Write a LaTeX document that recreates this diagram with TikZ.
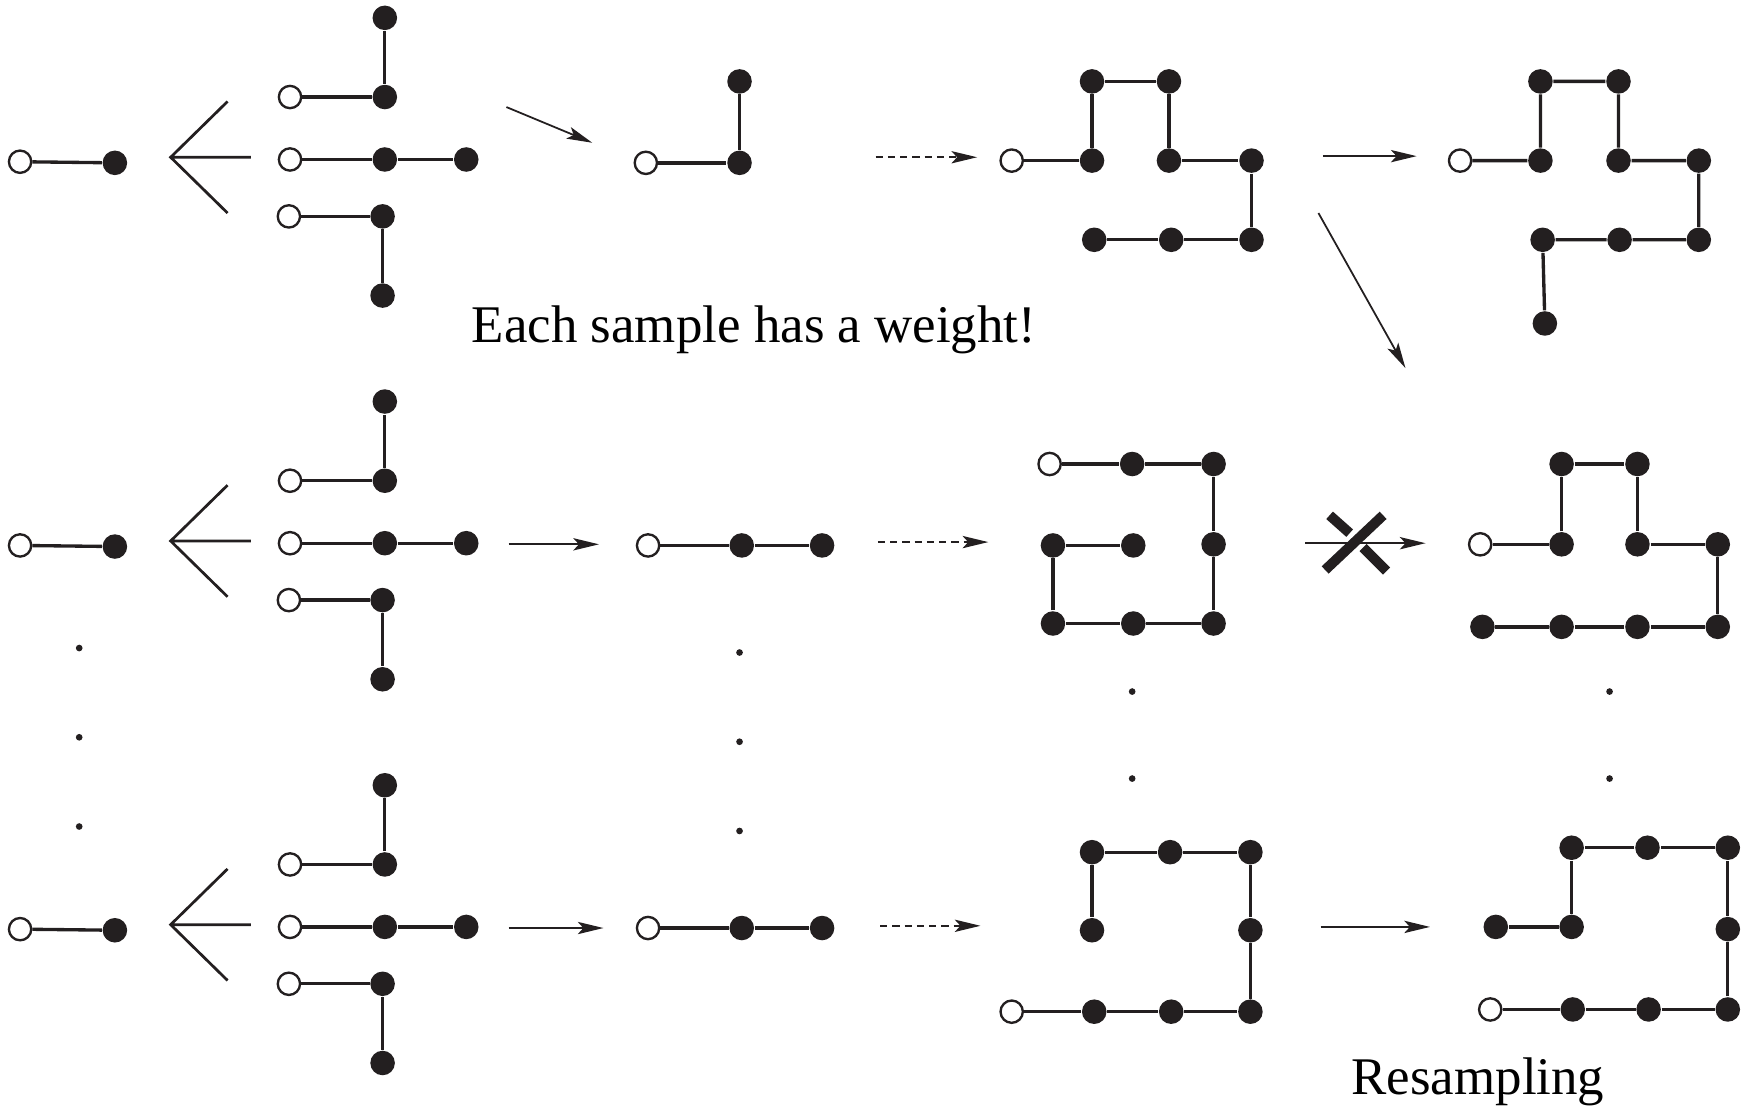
\documentclass[tikz,border=0pt]{standalone}
\usepackage{fontspec}
\setmainfont{Liberation Serif}
\usetikzlibrary{arrows.meta}

\definecolor{ink}{HTML}{231F20}

\tikzset{
  fdot/.style={circle,fill=ink,inner sep=0pt,minimum size=2.2mm},
  odot/.style={circle,draw=ink,fill=white,line width=0.6pt,inner sep=0pt,minimum size=2mm},
  vdot/.style={circle,fill=ink,inner sep=0pt,minimum size=0.6mm},
  edge/.style={ink,line width=0.85pt},
  fork/.style={ink,line width=0.7pt},
  move/.style={ink,line width=0.45pt,-{Stealth[length=2.3mm,width=1.1mm,inset=0.5mm]}},
  movedash/.style={move,dash pattern=on 0.65mm off 0.45mm},
  bar/.style={ink,line width=0.9mm},
  lbl/.style={inner sep=0pt,font=\fontsize{13.5}{16}\selectfont},
}

\begin{document}
\begin{tikzpicture}[x=0.1mm,y=-0.1mm]
\useasboundingbox (0,0) rectangle (1568,996);

% Parte izquierda: igual en las tres filas
\foreach \k/\dy in {1/0,2/344,3/688}{
\begin{scope}[shift={(0,\dy)}]
  % primer paso
  \node[odot] (i\k-0) at (18,145) {};
  \node[fdot] (i\k-1) at (103,146) {};
  \draw[edge] (i\k-0) -- (i\k-1);
  % horquilla
  \coordinate (fk\k) at (153,141);
  \coordinate (fk\k-u) at (204,91);
  \coordinate (fk\k-m) at (225,141);
  \coordinate (fk\k-d) at (204,191);
  \draw[fork] (fk\k-u) -- (fk\k) -- (fk\k-d) (fk\k) -- (fk\k-m);
  % tres posibilidades
  \node[odot] (u\k-0) at (260,87) {};
  \node[fdot] (u\k-1) at (345,87) {};
  \node[fdot] (u\k-2) at (345,16) {};
  \draw[edge] (u\k-0) -- (u\k-1) -- (u\k-2);
  \node[odot] (m\k-0) at (260,143) {};
  \node[fdot] (m\k-1) at (345,143) {};
  \node[fdot] (m\k-2) at (418,143) {};
  \draw[edge] (m\k-0) -- (m\k-1) -- (m\k-2);
  \node[odot] (d\k-0) at (259,194) {};
  \node[fdot] (d\k-1) at (343,194) {};
  \node[fdot] (d\k-2) at (343,265) {};
  \draw[edge] (d\k-0) -- (d\k-1) -- (d\k-2);
\end{scope}
}

% Fila 1
\node[odot] (s1-0) at (579,146) {};
\node[fdot] (s1-1) at (663,146) {};
\node[fdot] (s1-2) at (663,73) {};
\draw[edge] (s1-0) -- (s1-1) -- (s1-2);

\node[odot] (w1-0) at (907,144) {};
\foreach \x/\y [count=\i] in {979/144,979/73,1048/73,1048/144,1122/144,1122/215,1050/215,981/215}
  \node[fdot] (w1-\i) at (\x,\y) {};
\draw[edge] (w1-0) -- (w1-1) -- (w1-2) -- (w1-3) -- (w1-4) -- (w1-5) -- (w1-6) -- (w1-7) -- (w1-8);

\node[odot] (r1-0) at (1309,144) {};
\foreach \x/\y [count=\i] in {1381/144,1381/73,1451/73,1451/144,1523/144,1523/215,1452/215,1383/215,1385/290}
  \node[fdot] (r1-\i) at (\x,\y) {};
\draw[edge] (r1-0) -- (r1-1) -- (r1-2) -- (r1-3) -- (r1-4) -- (r1-5) -- (r1-6) -- (r1-7) -- (r1-8) -- (r1-9);

% Fila 2
\node[odot] (s2-0) at (581,489) {};
\node[fdot] (s2-1) at (665,489) {};
\node[fdot] (s2-2) at (737,489) {};
\draw[edge] (s2-0) -- (s2-1) -- (s2-2);

\node[odot] (w2-0) at (941,416) {};
\foreach \x/\y [count=\i] in {1015/416,1088/416,1088/488,1088/559,1016/559,944/559,944/489,1016/489}
  \node[fdot] (w2-\i) at (\x,\y) {};
\draw[edge] (w2-0) -- (w2-1) -- (w2-2) -- (w2-3) -- (w2-4) -- (w2-5) -- (w2-6) -- (w2-7) -- (w2-8);

\node[odot] (r2-0) at (1327,488) {};
\foreach \x/\y [count=\i] in {1400/488,1400/416,1468/416,1468/488,1540/488,1540/562,1468/562,1400/562,1329/562}
  \node[fdot] (r2-\i) at (\x,\y) {};
\draw[edge] (r2-0) -- (r2-1) -- (r2-2) -- (r2-3) -- (r2-4) -- (r2-5) -- (r2-6) -- (r2-7) -- (r2-8) -- (r2-9);

% Fila 3
\node[odot] (s3-0) at (581,832) {};
\node[fdot] (s3-1) at (665,832) {};
\node[fdot] (s3-2) at (737,832) {};
\draw[edge] (s3-0) -- (s3-1) -- (s3-2);

\node[odot] (w3-0) at (907,907) {};
\foreach \x/\y [count=\i] in {981/907,1050/907,1121/907,1121/834,1121/764,1049/764,979/764,979/834}
  \node[fdot] (w3-\i) at (\x,\y) {};
\draw[edge] (w3-0) -- (w3-1) -- (w3-2) -- (w3-3) -- (w3-4) -- (w3-5) -- (w3-6) -- (w3-7) -- (w3-8);

\node[odot] (r3-0) at (1336,905) {};
\foreach \x/\y [count=\i] in {1410/905,1478/905,1549/905,1549/833,1549/760,1477/760,1409/760,1409/831,1341/831}
  \node[fdot] (r3-\i) at (\x,\y) {};
\draw[edge] (r3-0) -- (r3-1) -- (r3-2) -- (r3-3) -- (r3-4) -- (r3-5) -- (r3-6) -- (r3-7) -- (r3-8) -- (r3-9);

% Puntos suspensivos
\foreach \x/\y [count=\i] in {71/581,71/661,71/741,663/585,663/665,663/745,1015/620,1015/698,1443/620,1443/698}
  \node[vdot] (v\i) at (\x,\y) {};

% Flechas
\coordinate (a1s) at (454,96);   \coordinate (a1e) at (531,128);
\coordinate (b1s) at (785,141);  \coordinate (b1e) at (876,141);
\coordinate (c1s) at (1186,140); \coordinate (c1e) at (1270,140);
\coordinate (c0s) at (1182,191); \coordinate (c0e) at (1260,330);
\coordinate (a2s) at (456,488);  \coordinate (a2e) at (537,488);
\coordinate (b2s) at (787,486);  \coordinate (b2e) at (886,486);
\coordinate (c2s) at (1170,487); \coordinate (c2e) at (1278,487);
\coordinate (a3s) at (456,832);  \coordinate (a3e) at (541,832);
\coordinate (b3s) at (789,830);  \coordinate (b3e) at (879,830);
\coordinate (c3s) at (1184,831); \coordinate (c3e) at (1282,831);
\draw[move] (a1s) -- (a1e);
\draw[move] (a2s) -- (a2e);
\draw[move] (a3s) -- (a3e);
\draw[movedash] (b1s) -- (b1e);
\draw[movedash] (b2s) -- (b2e);
\draw[movedash] (b3s) -- (b3e);
\draw[move] (c1s) -- (c1e);
\draw[move] (c0s) -- (c0e);
\draw[move] (c2s) -- (c2e);
\draw[move] (c3s) -- (c3e);

% Flecha tachada
\draw[bar] (1188,511) -- (1240,462);
\draw[bar] (1192,462) -- (1210,478);
\draw[bar] (1222,491) -- (1243,512);

% Textos
\node[lbl] (weight) at (676,296) {Each sample has a weight!};
\node[lbl] (resamp) at (1325,970) {Resampling};

\end{tikzpicture}
\end{document}
